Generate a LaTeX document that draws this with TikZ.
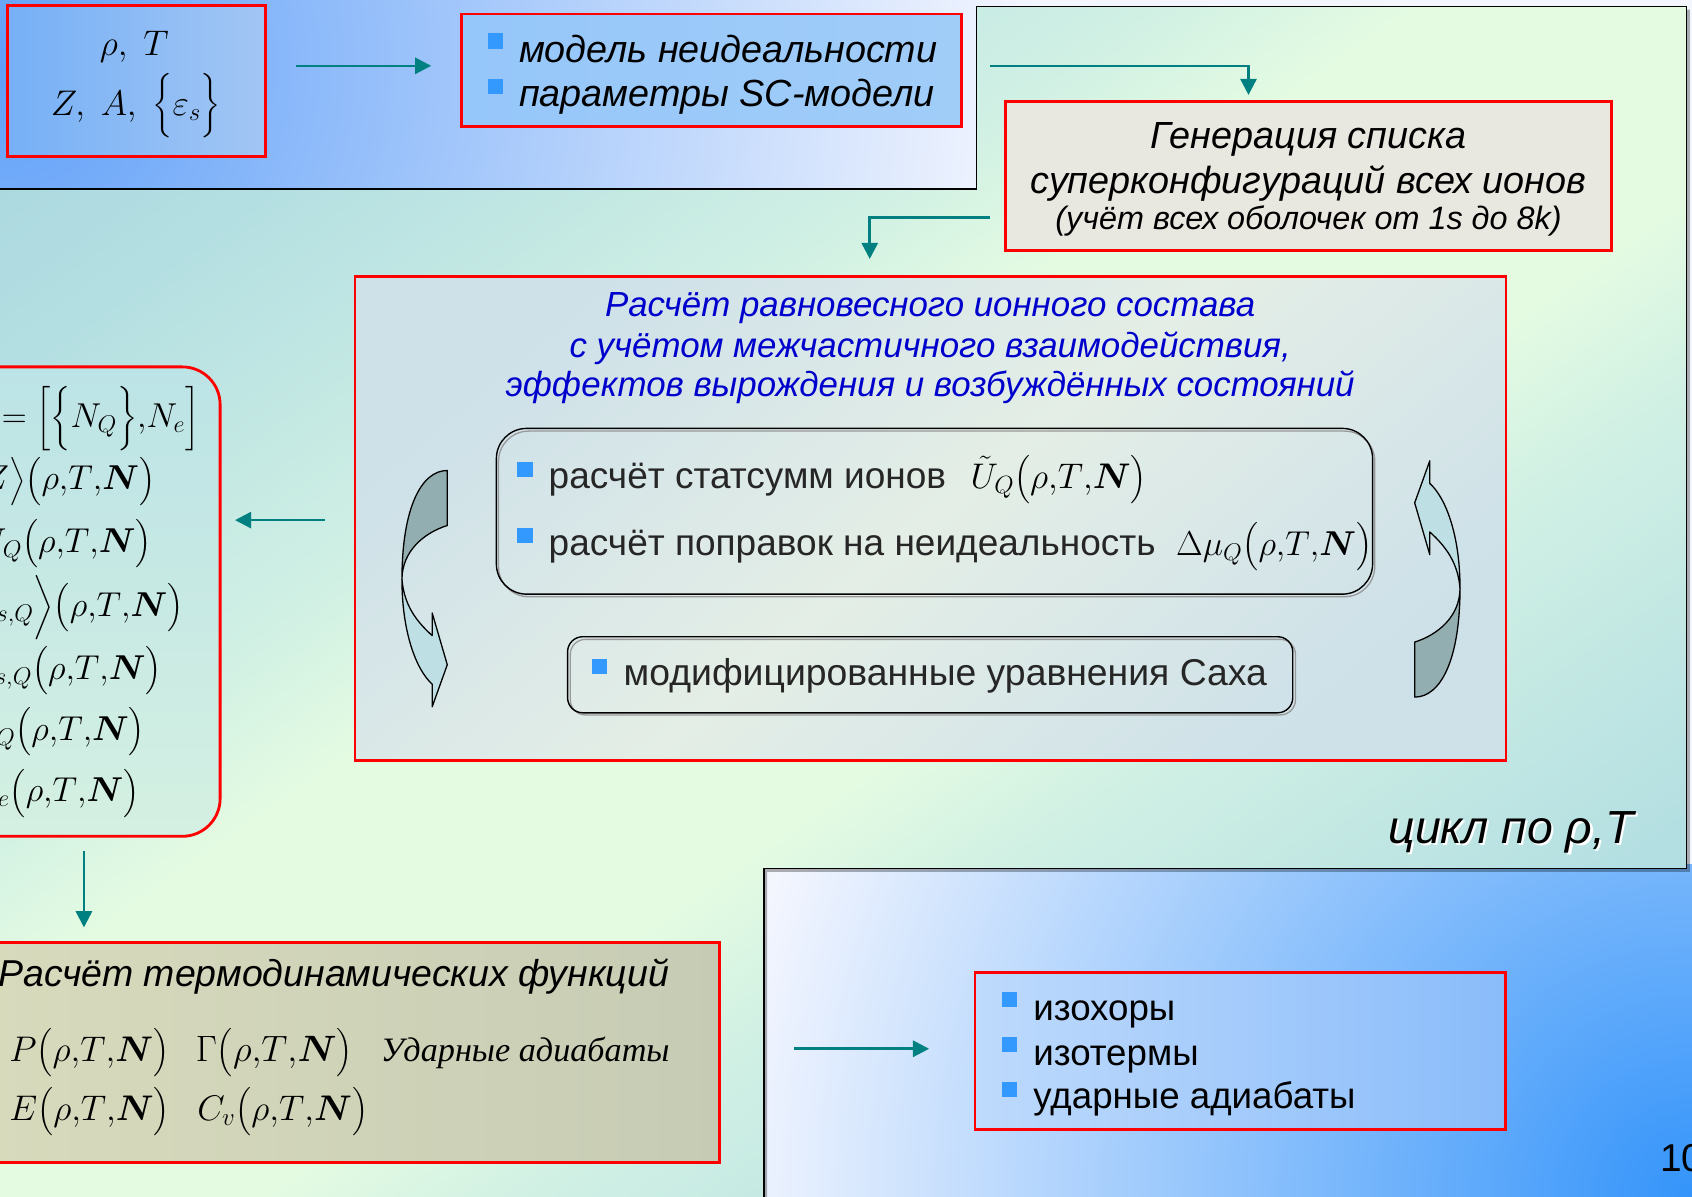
\RequirePackage{fix-cm}
\documentclass[tikz,border=0pt]{standalone}
\usepackage{amsmath}
\usepackage[no-math]{fontspec}
\setmainfont{Liberation Sans}
\newfontfamily\serifit{Liberation Serif}
\usetikzlibrary{arrows.meta}

\definecolor{arrowc}{RGB}{0,128,128}
\definecolor{redc}{RGB}{255,0,0}
\definecolor{bulc}{RGB}{51,153,255}
\definecolor{titleblue}{RGB}{0,0,204}
\definecolor{bgblueA}{RGB}{96,160,248}
\definecolor{bgwhite}{RGB}{244,246,254}
\definecolor{bgblueB}{RGB}{52,148,250}
\definecolor{gcyan2}{RGB}{164,210,222}
\definecolor{gcyan}{RGB}{180,223,226}
\definecolor{gmid}{RGB}{208,240,228}
\definecolor{ggreen}{RGB}{228,251,226}
\definecolor{darkarr}{RGB}{147,174,176}
\definecolor{lightarr}{RGB}{190,224,228}
\definecolor{boxAa}{RGB}{118,176,246}
\definecolor{boxAb}{RGB}{162,198,244}
\definecolor{boxBa}{RGB}{150,199,250}
\definecolor{boxBb}{RGB}{160,204,248}
\definecolor{boxC}{RGB}{233,232,224}
\definecolor{bigA}{RGB}{206,225,233}
\definecolor{bigM}{RGB}{228,238,230}
\definecolor{leftA}{RGB}{188,227,230}
\definecolor{leftB}{RGB}{212,240,226}
\definecolor{khakiA}{RGB}{216,218,188}
\definecolor{khakiB}{RGB}{198,204,180}
\definecolor{rbA}{RGB}{190,218,252}
\definecolor{rbB}{RGB}{138,188,250}

\pgfdeclareradialshading{tlsh}{\pgfpoint{0bp}{0bp}}{color(0bp)=(bgblueA); color(25bp)=(bgwhite); color(50bp)=(bgwhite)}
\pgfdeclareradialshading{brsh}{\pgfpoint{0bp}{0bp}}{color(0bp)=(bgblueB); color(25bp)=(bgwhite); color(50bp)=(bgwhite)}
\pgfdeclareverticalshading{greenbg}{100bp}{color(0bp)=(gcyan2); color(25bp)=(gcyan2); color(33bp)=(gcyan); color(42bp)=(gmid); color(46bp)=(ggreen); color(54bp)=(ggreen); color(58bp)=(gmid); color(67bp)=(gcyan); color(75bp)=(gcyan2); color(100bp)=(gcyan2)}
\pgfdeclareverticalshading{bigbg}{100bp}{color(0bp)=(bigA); color(25bp)=(bigA); color(50bp)=(bigM); color(75bp)=(bigA); color(100bp)=(bigA)}

\newcommand\mycurvarrow[3]{%
  \begin{scope}[shift={(#1,#2)}, rotate=#3]
    \filldraw[fill=darkarr, draw=black, line width=1.2pt, line join=round]
      (-21,58.5) -- (-21,109.5) .. controls (3,109.5) and (21,75) .. (21,8.5)
      .. controls (21,35) and (0,52) .. (-21,58.5) -- cycle;
    \filldraw[fill=lightarr, draw=black, line width=1.2pt, line join=round]
      (21,8.5) .. controls (21,-40) and (8,-75) .. (-7,-88.5) -- (-7,-109.5)
      -- (-21,-70.5) -- (-7,-22.5) -- (-7,-43.5)
      .. controls (8,-30) and (19,-15) .. (21,8.5) -- cycle;
  \end{scope}}

\begin{document}
\begin{tikzpicture}[x=1pt,y=-1pt,
  redbox/.style={draw=redc, line width=2.6pt, inner sep=0pt, outer sep=0pt},
  arr/.style={draw=arrowc, line width=2.4pt, -{Triangle[length=15pt,width=15pt]}},
  bul/.style={fill=bulc, minimum width=14pt, minimum height=14pt, inner sep=0pt, outer sep=0pt},
  txt/.style={inner sep=0pt, outer sep=0pt, font=\fontsize{34}{40}\selectfont, anchor=base west},
  itxt/.style={inner sep=0pt, outer sep=0pt, font=\fontsize{35}{42}\selectfont\itshape, anchor=base},
  mth/.style={inner sep=0pt, outer sep=0pt, font=\fontsize{32}{38}\selectfont},
  bmth/.style={inner sep=0pt, outer sep=0pt, font=\fontsize{34}{40}\selectfont, anchor=base west},
  rbox/.style={draw=black, line width=1.3pt, inner sep=0pt, outer sep=0pt},
]
\useasboundingbox (0,0) rectangle (1568,1109);
\clip (0,0) rectangle (1568,1109);

% slide background: white with blue corners
\fill[bgwhite] (0,0) rectangle (1568,1109);
\begin{scope}
  \clip (0,0) rectangle (1568,180);
  \shade[shading=tlsh] (-960,-900) rectangle (960,1020);
\end{scope}
\begin{scope}
  \clip (704,801) rectangle (1568,1109);
  \shade[shading=brsh] (668,209) rectangle (2468,2009);
\end{scope}
% green cycle frame with shadow
\fill[black, opacity=0.3] (-10,178) -- (908,178) -- (908,9) -- (1566,9) -- (1566,808)
  -- (711,808) -- (711,1120) -- (-10,1120) -- cycle;
\begin{scope}
  \clip (-10,175) -- (905,175) -- (905,6) -- (1563,6) -- (1563,805)
    -- (708,805) -- (708,1120) -- (-10,1120) -- cycle;
  \begin{scope}[transform canvas={shift={(784,554)}, rotate=35}]
    \shade[shading=greenbg] (-1300,-904) rectangle (1300,904);
  \end{scope}
\end{scope}
\draw[black, line width=1.4pt]
  (-10,175) -- (905,175) -- (905,6) -- (1563,6) -- (1563,805)
  -- (708,805) -- (708,1120) -- (-10,1120) -- cycle;

% box 1
\node[redbox, minimum width=239pt, minimum height=140.5pt, left color=boxAa, right color=boxAb] (box1) at (126.5,75) {};
\node[mth, font=\fontsize{33}{40}\selectfont, anchor=base] (rhoT) at (124.5,51) {$\rho,\ T$};
\node[mth, font=\fontsize{33}{40}\selectfont, anchor=base] (ZAe) at (126,106.6) {$Z,\ A,\ \Bigl\{\varepsilon_s\Bigr\}$};

% box 2
\node[redbox, minimum width=463.3pt, minimum height=104.4pt, left color=boxBa, right color=boxBb] (box2) at (659.2,65.2) {};
\node[bul] (b21) at (459.5,38) {};
\node[bul] (b22) at (459.5,80.3) {};
\node[txt, font=\fontsize{35}{42}\selectfont\itshape] (t21) at (481,58) {модель неидеальности};
\node[txt, font=\fontsize{35}{42}\selectfont\itshape] (t22) at (481,99) {параметры SC-модели};

% box 3
\node[redbox, minimum width=561.3pt, minimum height=138.1pt, fill=boxC] (box3) at (1212.6,163.3) {};
\node[itxt] (t31) at (1212.6,137.5) {Генерация списка};
\node[itxt] (t32) at (1212.6,179) {суперконфигураций всех ионов};
\node[itxt, font=\fontsize{30}{36}\selectfont\itshape] (t33) at (1212.6,213) {(учёт всех оболочек от 1s до 8k)};

% big box
\node[redbox, minimum width=1066.5pt, minimum height=448.6pt, shading=bigbg, shading angle=40] (big) at (862.3,480.7) {};
\node[itxt, font=\fontsize{32.3}{38}\selectfont\itshape, text=titleblue] (tt1) at (862,293.5) {Расчёт равновесного ионного состава};
\node[itxt, font=\fontsize{32.3}{38}\selectfont\itshape, text=titleblue] (tt2) at (862,331) {с учётом межчастичного взаимодействия,};
\node[itxt, font=\fontsize{32.3}{38}\selectfont\itshape, text=titleblue] (tt3) at (862,367.6) {эффектов вырождения и возбуждённых состояний};

% inner rounded boxes
\draw[black!40, line width=1.2pt, rounded corners=28pt] (462,399.5) rectangle (1274,553);
\node[rbox, rounded corners=28pt, minimum width=812pt, minimum height=153.6pt] (in1) at (866,473.8) {};
\node[bul] (b11) at (486.5,435.4) {};
\node[bul] (b12) at (486.5,496.6) {};
\node[txt, font=\fontsize{34.3}{40}\selectfont, text=black!85] (t11) at (508.5,452.5) {расчёт статсумм ионов};
\node[txt, font=\fontsize{34.3}{40}\selectfont, text=black!85] (t12) at (508.5,514.4) {расчёт поправок на неидеальность};
\node[mth, font=\fontsize{33}{40}\selectfont, anchor=base west] (m11) at (899.5,452.5) {$\tilde U_Q\bigl(\rho{,}T{,}\boldsymbol N\bigr)$};
\node[mth, font=\fontsize{32}{40}\selectfont, anchor=base west] (m12) at (1090,514.4) {$\Delta\mu_Q\bigl(\rho{,}T{,}\boldsymbol N\bigr)$};

\draw[black!40, line width=1.2pt, rounded corners=14pt] (528.5,592.5) rectangle (1200.5,662.5);
\node[rbox, rounded corners=14pt, minimum width=672pt, minimum height=70.5pt] (in2) at (862,625.3) {};
\node[bul] (b13) at (555.5,617.5) {};
\node[txt, font=\fontsize{34.6}{40}\selectfont, text=black!85] (t13) at (578,635) {модифицированные уравнения Саха};

% curved arrows
\mycurvarrow{1332}{536.5}{0}
\mycurvarrow{393.5}{545.5}{180}

% left panel
\node[redbox, rounded corners=35pt, minimum width=244pt, minimum height=435pt, top color=leftA, bottom color=leftB] (lp) at (82,557.5) {};
\node[mth, anchor=base east] (l1) at (184.7,396) {$\boldsymbol N=\Bigl[\Bigl\{N_Q\Bigr\}{,}N_e\Bigr]$};
\node[mth, anchor=base east] (l2) at (143.7,454) {$\bigl\langle Z\bigr\rangle\bigl(\rho{,}T{,}\boldsymbol N\bigr)$};
\node[mth, anchor=base east] (l3) at (140.6,512) {$\tilde U_Q\bigl(\rho{,}T{,}\boldsymbol N\bigr)$};
\node[mth, anchor=base east] (l4) at (170,571.5) {$\Bigl\langle n_{s,Q}\Bigr\rangle\bigl(\rho{,}T{,}\boldsymbol N\bigr)$};
\node[mth, anchor=base east] (l5) at (149.8,629.6) {$\varepsilon_{s,Q}\bigl(\rho{,}T{,}\boldsymbol N\bigr)$};
\node[mth, anchor=base east] (l6) at (134.4,685.8) {$\Delta\mu_Q\bigl(\rho{,}T{,}\boldsymbol N\bigr)$};
\node[mth, anchor=base east] (l7) at (129.1,743) {$\mu_e\bigl(\rho{,}T{,}\boldsymbol N\bigr)$};

% bottom-left box
\node[redbox, minimum width=677pt, minimum height=204pt, left color=khakiA, right color=khakiB] (tb) at (328.5,975.6) {};
\node[txt, font=\fontsize{34.7}{40}\selectfont\itshape] (tbt) at (-1,914.4) {Расчёт термодинамических функций};
\node[bmth, font=\fontsize{33}{40}\selectfont] (P) at (8.7,984) {$P\bigl(\rho{,}T{,}\boldsymbol N\bigr)$};
\node[bmth] (G) at (181.5,984) {$\Gamma\bigl(\rho{,}T{,}\boldsymbol N\bigr)$};
\node[txt, font=\fontsize{31.7}{38}\serifit\itshape] (ua) at (353,984) {Ударные адиабаты};
\node[bmth, font=\fontsize{33}{40}\selectfont] (E) at (8.7,1038) {$E\bigl(\rho{,}T{,}\boldsymbol N\bigr)$};
\node[bmth, font=\fontsize{33}{40}\selectfont] (C) at (182.8,1038) {$C_v\bigl(\rho{,}T{,}\boldsymbol N\bigr)$};

% right box
\node[redbox, minimum width=491.2pt, minimum height=145.2pt, left color=rbA, right color=rbB] (rb) at (1149.2,974) {};
\node[bul] (r1b) at (935.6,926.3) {};
\node[bul] (r2b) at (935.6,968.2) {};
\node[bul] (r3b) at (935.6,1009.9) {};
\node[txt] (r1) at (957.6,945.3) {изохоры};
\node[txt] (r2) at (957.6,987) {изотермы};
\node[txt] (r3) at (957.6,1027.2) {ударные адиабаты};

% cycle label and page number
\node[txt, font=\fontsize{43}{50}\selectfont\itshape, text=white] (cyc0) at (1288.7,783.5) {цикл по ρ,T};
\node[txt, font=\fontsize{43}{50}\selectfont\itshape] (cyc) at (1286.7,781.5) {цикл по ρ,T};
\node[txt, font=\fontsize{36}{42}\selectfont] (pg) at (1538.5,1086) {10};

% connectors
\coordinate (a1s) at (274,61);
\coordinate (a1e) at (399.6,61);
\draw[arr] (a1s) -- (a1e);
\coordinate (c2s) at (917.8,61);
\coordinate (c2e) at (1157,88);
\draw[arr] (c2s) -| (c2e);
\coordinate (c3s) at (917.8,201.4);
\coordinate (c3e) at (806,240);
\draw[arr] (c3s) -| (c3e);
\coordinate (a4s) at (301,482);
\coordinate (a4e) at (217.8,482);
\draw[arr] (a4s) -- (a4e);
\coordinate (a5s) at (77.8,789);
\coordinate (a5e) at (77.8,859.4);
\draw[arr] (a5s) -- (a5e);
\coordinate (a6s) at (736,971.9);
\coordinate (a6e) at (861,971.9);
\draw[arr] (a6s) -- (a6e);
\end{tikzpicture}
\end{document}
